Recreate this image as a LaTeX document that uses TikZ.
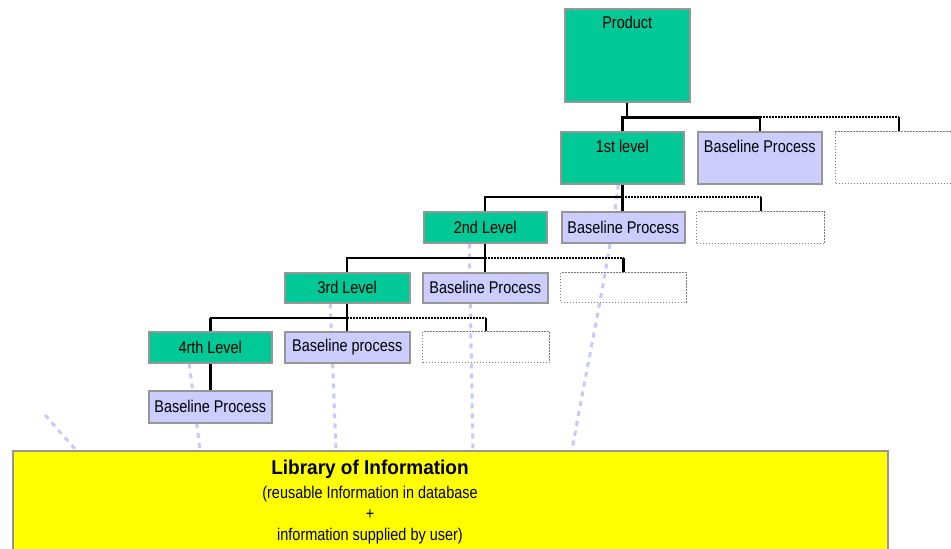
\documentclass[tikz,border=0pt]{standalone}
\usepackage{fontspec}
\setmainfont{Liberation Sans}
\usepackage{graphicx}
\definecolor{grn}{RGB}{0,200,150}
\definecolor{lavfill}{RGB}{204,204,255}
\definecolor{lavline}{RGB}{200,200,255}
\definecolor{bordergray}{RGB}{150,150,150}
\definecolor{dotgray}{RGB}{120,120,120}
\definecolor{yel}{RGB}{255,255,0}
\newcommand\cond[1]{\scalebox{0.85}[1]{#1}}
\pgfdeclarelayer{background}
\pgfsetlayers{background,main}
\begin{document}
\begin{tikzpicture}[x=1pt,y=-1pt,
  boxbase/.style={draw=bordergray,line width=1.5pt,inner sep=0pt,anchor=north west},
  gbox/.style={boxbase,fill=grn},
  lbox/.style={boxbase,fill=lavfill},
  dbox/.style={draw=dotgray,line width=1.3pt,dash pattern=on 1.5pt off 1.5pt,inner sep=0pt,anchor=north west},
  ybox/.style={boxbase,fill=yel},
  txt/.style={inner sep=0pt,font=\fontsize{17}{19}\selectfont},
  thinc/.style={draw=black,line width=2pt},
  thickc/.style={draw=black,line width=3pt},
  dotc/.style={draw=black,line width=2.5pt,dash pattern=on 2pt off 1pt},
  lavc/.style={draw=lavline,line width=3pt,dash pattern=on 5pt off 5pt}]
\clip (0,0) rectangle (951,549);
% boxes
\node[gbox,minimum width=125pt,minimum height=93pt] (prod) at (564,8) {};
\node[gbox,minimum width=123pt,minimum height=52pt] (l1) at (560,131) {};
\node[lbox,minimum width=124pt,minimum height=52pt] (bp1) at (697,131) {};
\node[dbox,minimum width=126pt,minimum height=52pt] (d1) at (835,131) {};
\node[gbox,minimum width=123pt,minimum height=31pt,txt] (l2) at (423,211) {\cond{2nd Level}};
\node[lbox,minimum width=123pt,minimum height=31pt,txt] (bp2) at (561,211) {\cond{Baseline Process}};
\node[dbox,minimum width=128pt,minimum height=32pt] (d2) at (696,211) {};
\node[gbox,minimum width=125pt,minimum height=30pt,txt] (l3) at (284,272) {\cond{3rd Level}};
\node[lbox,minimum width=125pt,minimum height=30pt,txt] (bp3) at (422,272) {\cond{Baseline Process}};
\node[dbox,minimum width=126pt,minimum height=30pt] (d3) at (560,272) {};
\node[gbox,minimum width=123pt,minimum height=31pt,txt] (l4) at (148,331) {\cond{4rth Level}};
\node[lbox,minimum width=125pt,minimum height=31pt,txt] (bp4) at (284,331) {\cond{Baseline process}};
\node[dbox,minimum width=127pt,minimum height=31pt] (d4) at (422,331) {};
\node[lbox,minimum width=123pt,minimum height=32pt,txt] (bp5) at (148,390) {\cond{Baseline Process}};
\node[ybox,minimum width=875pt,minimum height=130pt] (lib) at (12,450) {};
% labels at top of tall boxes
\node[txt] (prodt) at ([yshift=-14pt]prod.north) {\cond{Product}};
\node[txt] (l1t) at ([yshift=-15pt]l1.north) {\cond{1st level}};
\node[txt] (bp1t) at ([yshift=-15pt]bp1.north) {\cond{Baseline Process}};
% library text
\node[inner sep=0pt,font=\fontsize{20}{22}\selectfont\bfseries] (libt1) at (370,469) {\scalebox{0.95}[1]{Library of Information}};
\node[txt] (libt2) at (370,494) {\cond{(reusable Information in database}};
\node[txt] (libt3) at (370,515) {\cond{+}};
\node[txt] (libt4) at (370,536) {\cond{information supplied by user)}};
% junctions
\coordinate (j1) at (0,117);
\coordinate (j2) at (0,197);
\coordinate (j3) at (0,258);
\coordinate (j4) at (0,318);
% level 0 -> 1
\draw[thinc] (prod.south) -- (prod.south |- j1);
\draw[thickc] (l1.north) -- (l1.north |- j1) -- (bp1.north |- j1);
\draw[thinc] (bp1.north |- j1) -- (bp1.north);
\draw[dotc] (bp1.north |- j1) -- (d1.north |- j1);
\draw[thinc] (d1.north |- j1) -- (d1.north);
% level 1 -> 2
\draw[thickc] (l1.south) -- (l1.south |- bp2.north);
\draw[thinc] (l2.north) -- (l2.north |- j2) -- (l1.south |- j2);
\draw[dotc] (l1.south |- j2) -- (d2.north |- j2);
\draw[thinc] (d2.north |- j2) -- (d2.north);
% level 2 -> 3
\draw[thinc] (l2.south) -- (l2.south |- bp3.north);
\draw[thinc] (l3.north) -- (l3.north |- j3) -- (l2.south |- j3);
\draw[dotc] (l2.south |- j3) -- (d3.north |- j3);
\draw[thickc] (d3.north |- j3) -- (d3.north);
% level 3 -> 4
\draw[thinc] (l3.south) -- (l3.south |- bp4.north);
\draw[thickc] (l4.north) -- (l4.north |- j4);
\draw[thinc] (l4.north |- j4) -- (l3.south |- j4);
\draw[dotc] (l3.south |- j4) -- (d4.north |- j4);
\draw[thinc] (d4.north |- j4) -- (d4.north);
% level 4 -> 5
\draw[thickc] (l4.south) -- (bp5.north);
% lavender links to library
\begin{pgfonlayer}{background}
\coordinate (free) at (45,415);
\draw[lavc] (free) -- (lib.north -| 76,0);
\draw[lavc] ([xshift=-21pt]l4.south) -- (lib.north -| 200,0);
\draw[lavc] ([xshift=-17pt]l3.south) -- (lib.north -| 336,0);
\draw[lavc] ([xshift=-16pt]l2.south) -- (lib.north -| 473,0);
\draw[lavc] ([xshift=-4pt]l1.south) .. controls (610,260) and (588,360) .. (lib.north -| 572,0);
\end{pgfonlayer}
\end{tikzpicture}
\end{document}
